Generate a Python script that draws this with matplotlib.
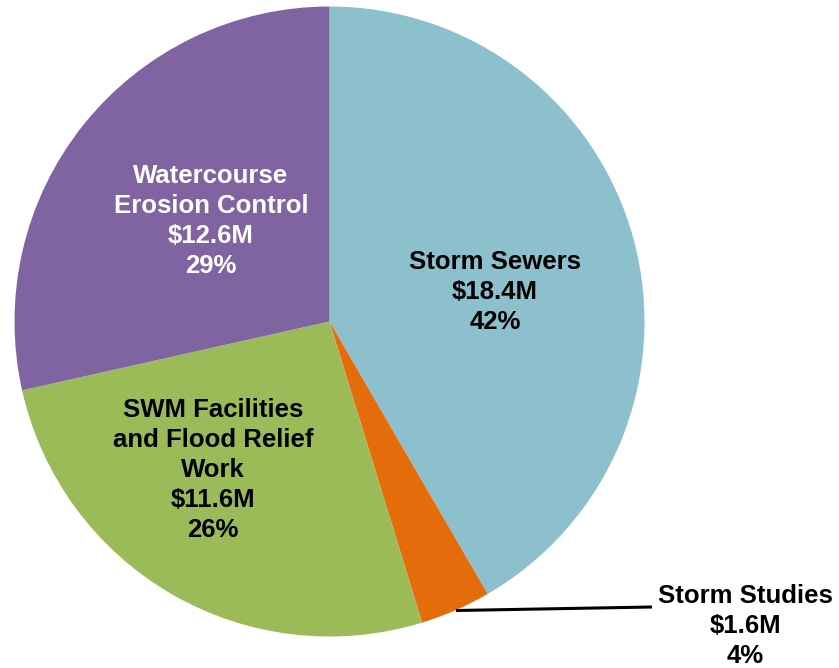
import matplotlib.pyplot as plt

plt.rcParams['font.family'] = ['Liberation Sans', 'DejaVu Sans']

# Stormwater capital budget by program ($M), clockwise from 12 o'clock
categories = ['Storm Sewers', 'Storm Studies', 'SWM Facilities\nand Flood Relief\nWork',
              'Watercourse\nErosion Control']
amounts = [18.4, 1.6, 11.6, 12.6]
percents = [42, 4, 26, 29]
colors = ['#8CC0CD', '#E46C0A', '#9BBB59', '#8064A2']
text_colors = ['black', 'black', 'black', 'white']

W, H = 839, 668
fig = plt.figure(figsize=(W / 100, H / 100), dpi=100)
ax = fig.add_axes([0, 0, 1, 1])

# work in pixel-like units so the pie sits where we want it
cx, cy, r = 329.5, H - 321.5, 315
ax.pie(amounts, colors=colors, startangle=90, counterclock=False,
       center=(cx, cy), radius=r, wedgeprops=dict(linewidth=0))
ax.set_xlim(0, W)
ax.set_ylim(0, H)
ax.set_aspect('equal')
ax.axis('off')

# label anchor points (x, y from top)
label_pos = [(495, 292), (745, 626), (213, 470), (211, 221)]
for name, amt, pct, col, (lx, ly) in zip(categories, amounts, percents, text_colors, label_pos):
    ax.text(lx, H - ly, f"{name}\n${amt:.1f}M\n{pct}%", ha='center', va='center',
            fontsize=18.5, fontweight='bold', color=col, linespacing=1.32)

# leader line for the small slice
ax.plot([456, 652], [H - 610.5, H - 607], color='black', linewidth=2.2,
        solid_capstyle='butt')

fig.savefig('out.png', dpi=100)
